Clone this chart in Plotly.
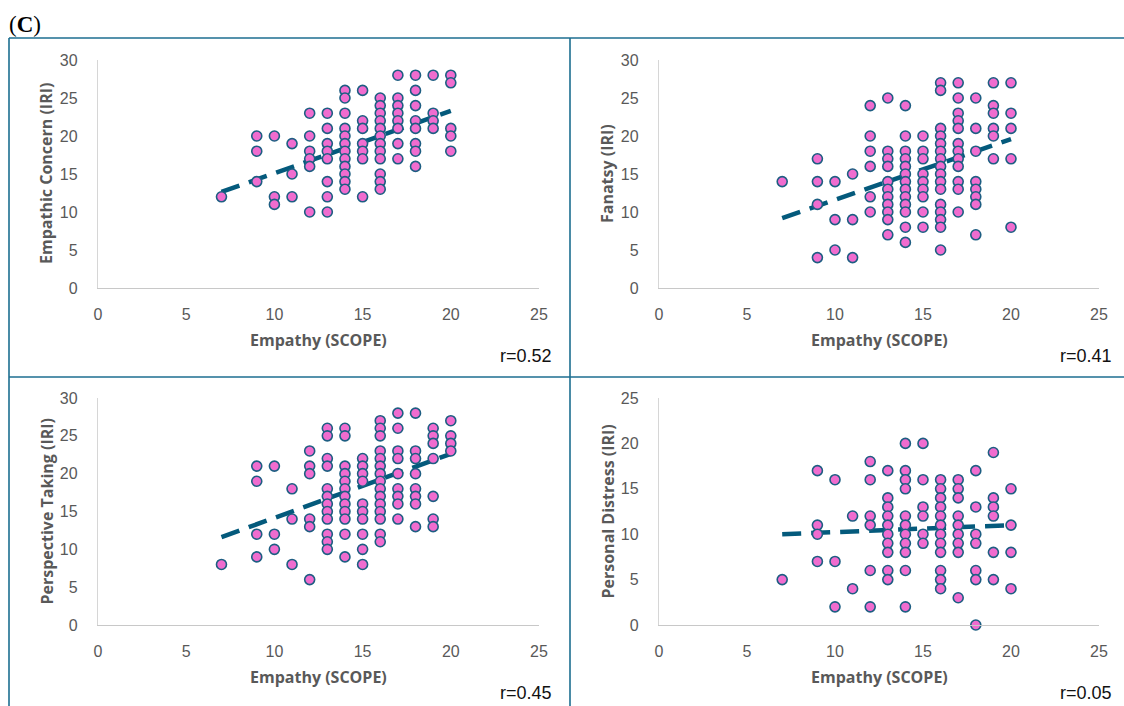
import plotly.graph_objects as go

W, H = 1124, 706

# ---- data (Empathy SCOPE score -> IRI subscale scores) ----
ec_cols = {7: [12], 9: [20, 18, 14], 10: [20, 12, 11], 11: [19, 15, 12],
           12: [23, 20, 18, 17, 16, 10], 13: [23, 21, 19, 18, 17, 14, 12, 10],
           14: [26, 25, 23, 21, 20, 19, 18, 17, 16, 15, 14, 13],
           15: [26, 22, 21, 19, 18, 17, 12],
           16: [25, 24, 23, 22, 21, 20, 19, 18, 17, 15, 14, 13],
           17: [28, 25, 24, 23, 22, 21, 19, 17],
           18: [28, 26, 24, 22, 21, 19, 18, 16], 19: [28, 23, 22, 21],
           20: [28, 27, 21, 20, 18]}

fa_cols = {7: [14], 9: [17, 14, 11, 4], 10: [14, 9, 5], 11: [15, 9, 4],
           12: [24, 20, 18, 16, 12, 10],
           13: [25, 18, 17, 16, 14, 13, 12, 11, 10, 9, 7],
           14: [24, 20, 18, 17, 16, 15, 14, 13, 12, 11, 10, 8, 6],
           15: [20, 18, 17, 15, 14, 13, 12, 10, 8],
           16: [27, 26, 21, 20, 19, 18, 17, 16, 15, 14, 13, 11, 10, 9, 8, 5],
           17: [27, 25, 23, 22, 21, 19, 18, 17, 16, 14, 13, 10],
           18: [25, 21, 18, 14, 13, 12, 11, 7], 19: [27, 24, 23, 21, 20, 17],
           20: [27, 23, 21, 17, 8]}

pt_cols = {7: [8], 9: [21, 19, 12, 9], 10: [21, 12, 10], 11: [18, 14, 8],
           12: [23, 21, 20, 14, 13, 6],
           13: [26, 25, 22, 21, 18, 17, 16, 15, 14, 12, 11, 10],
           14: [26, 25, 21, 20, 19, 18, 17, 16, 15, 14, 12, 9],
           15: [22, 21, 20, 19, 16, 15, 14, 12, 10, 8],
           16: [27, 26, 25, 23, 22, 21, 20, 19, 18, 17, 16, 15, 14, 12, 11],
           17: [28, 26, 23, 22, 20, 18, 17, 16, 14],
           18: [28, 23, 22, 20, 18, 17, 16, 13],
           19: [26, 25, 24, 22, 17, 14, 13], 20: [27, 25, 24, 23]}

pd_cols = {7: [5], 9: [17, 11, 10, 7], 10: [16, 7, 2], 11: [12, 4],
           12: [18, 16, 12, 11, 6, 2],
           13: [17, 14, 13, 12, 11, 10, 9, 8, 6, 5],
           14: [20, 17, 16, 15, 12, 11, 10, 9, 8, 6, 2],
           15: [20, 16, 13, 12, 10, 9],
           16: [16, 15, 14, 13, 12, 11, 10, 9, 8, 6, 5, 4],
           17: [16, 15, 14, 12, 11, 10, 9, 8, 3],
           18: [17, 13, 10, 9, 6, 5, 0], 19: [19, 14, 13, 12, 8, 5],
           20: [15, 11, 8, 4]}

panel_titles = ["Empathic Concern (IRI)", "Fanatsy (IRI)",
                "Perspective Taking (IRI)", "Personal Distress (IRI)"]
x_title = "Empathy (SCOPE)"
r_labels = ["r=0.52", "r=0.41", "r=0.45", "r=0.05"]
# linear trend (intercept, slope)
trend_intercepts = [6.9, 3.6, 5.7, 9.46]
trend_slopes = [0.82, 0.80, 0.846, 0.077]
y_max = [30, 30, 30, 25]
x_ticks = [0, 5, 10, 15, 20, 25]
y_ticks = [[0, 5, 10, 15, 20, 25, 30]] * 3 + [[0, 5, 10, 15, 20, 25]]

PINK = "#F06CCF"
EDGE = "#1D5E82"
TREND = "#045A7C"
FRAME = "#1C6E90"
GREY = "#595959"


def px(x):
    return x / W


def py(y):
    return 1 - y / H


# plot-area pixel boxes: (left, right, top, bottom)
boxes = [(98, 539, 60, 288), (659, 1099, 60, 288),
         (98, 539, 398, 625), (659, 1099, 398, 625)]

fig = go.Figure()
cols = [ec_cols, fa_cols, pt_cols, pd_cols]
annotations = []
for i, (c, box) in enumerate(zip(cols, boxes)):
    xs, ys = [], []
    for k, vals in c.items():
        for v in vals:
            xs.append(k)
            ys.append(v)
    ax = "" if i == 0 else str(i + 1)
    xmin, xmax = min(xs), max(xs)
    fig.add_trace(go.Scatter(
        x=[xmin, xmax],
        y=[trend_intercepts[i] + trend_slopes[i] * xmin,
           trend_intercepts[i] + trend_slopes[i] * xmax],
        mode="lines", line=dict(color=TREND, width=4.5, dash="19px,10px"),
        xaxis="x" + ax, yaxis="y" + ax, showlegend=False, hoverinfo="skip"))
    fig.add_trace(go.Scatter(
        x=xs, y=ys, mode="markers",
        marker=dict(size=10, color=PINK, line=dict(color=EDGE, width=1.6)),
        xaxis="x" + ax, yaxis="y" + ax, showlegend=False, cliponaxis=False))

    l, r, t, b = box
    fig.layout["xaxis" + ax] = dict(
        domain=[px(l), px(r)], range=[0, 25], anchor="y" + ax,
        tickvals=x_ticks, showgrid=False, zeroline=False, showline=True,
        linecolor="#C8C8C8", linewidth=1.3, ticks="", ticklabelstandoff=12,
        tickfont=dict(family="Liberation Sans", size=16, color=GREY),
        fixedrange=True, automargin=False)
    fig.layout["yaxis" + ax] = dict(
        domain=[py(b), py(t)], range=[0, y_max[i]], anchor="x" + ax,
        tickvals=y_ticks[i], showgrid=False, zeroline=False, showline=True,
        linecolor="#D6D6D6", linewidth=1.3, ticks="", ticklabelstandoff=16,
        tickfont=dict(family="Liberation Sans", size=16, color=GREY),
        fixedrange=True, automargin=False)

    cx = (l + r) / 2
    annotations.append(dict(
        x=px(cx), y=py(b + 52), xref="paper", yref="paper", text="<b>" + x_title + "</b>",
        showarrow=False, xanchor="center", yanchor="middle",
        font=dict(family="Open Sans", size=16, color=GREY)))
    annotations.append(dict(
        x=px(l - 52), y=py((t + b) / 2), xref="paper", yref="paper",
        text="<b>" + panel_titles[i] + "</b>", textangle=-90,
        showarrow=False, xanchor="center", yanchor="middle",
        font=dict(family="Open Sans", size=16, color=GREY)))
    annotations.append(dict(
        x=px(r + 15), y=py(b + 68), xref="paper", yref="paper", text=r_labels[i],
        showarrow=False, xanchor="right", yanchor="middle",
        font=dict(family="Liberation Sans", size=18, color="#111111")))

annotations.append(dict(
    x=px(7), y=py(24), xref="paper", yref="paper", text="(<b>C</b>)",
    showarrow=False, xanchor="left", yanchor="middle",
    font=dict(family="Liberation Serif", size=23, color="#000000")))

shapes = []
for (x0, y0, x1, y1) in [(9, 38, 1124, 38), (9, 38, 9, 706), (570, 38, 570, 706),
                         (9, 377, 1124, 377)]:
    shapes.append(dict(type="line", xref="paper", yref="paper",
                       x0=px(x0), y0=py(y0), x1=px(x1), y1=py(y1),
                       line=dict(color=FRAME, width=1.6)))

fig.update_layout(width=W, height=H,
                  margin=dict(l=0, r=0, t=0, b=0, pad=0, autoexpand=False),
                  paper_bgcolor="white", plot_bgcolor="white",
                  annotations=annotations, shapes=shapes)

fig.write_html("out.html", config={"displayModeBar": False})
